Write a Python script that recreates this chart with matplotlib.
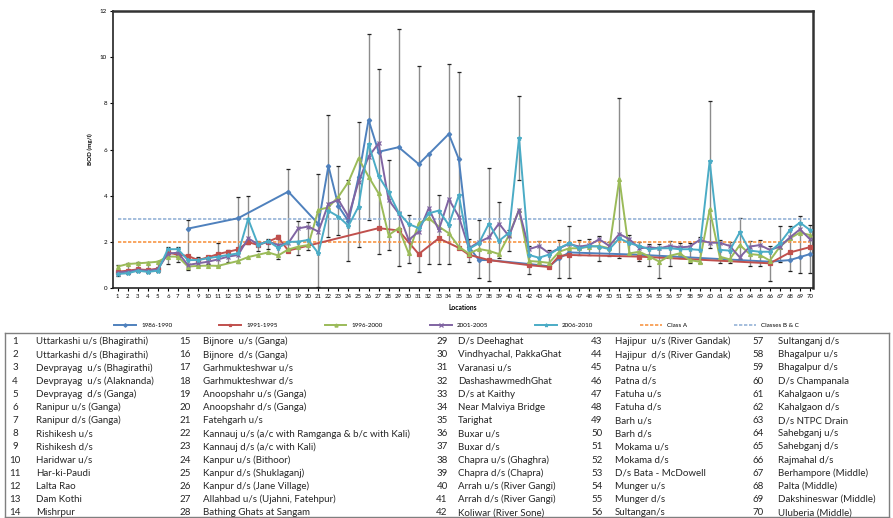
import matplotlib
matplotlib.use("Agg")
import matplotlib.pyplot as plt
import numpy as np

plt.rcParams['font.family'] = ['Lato', 'DejaVu Sans']

nan = np.nan
locations = np.arange(1, 71)

# BOD (mg/l) per location, one list per period (nan = not monitored)
bod_1986_1990 = [nan, nan, nan, nan, nan, nan, nan, 2.58, nan, nan,
                 nan, nan, 3.03, nan, nan, nan, nan, 4.18, nan, nan,
                 2.78, 5.29, 3.55, 2.9, 4.8, 7.28, 5.9, nan, 6.1, nan,
                 5.37, 5.8, nan, 6.67, 5.58, 1.8, 1.22, 1.22, nan, nan,
                 nan, 1.05, nan, 0.95, 1.3, 1.55, nan, nan, nan, nan,
                 nan, nan, 1.45, nan, nan, nan, nan, nan, nan, nan,
                 nan, nan, nan, nan, nan, 1.15, nan, 1.22, 1.35, 1.48]
bod_1991_1995 = [0.72, 0.76, 0.82, 0.79, 0.85, 1.55, 1.45, 1.4, 1.22, 1.34,
                 1.48, 1.58, 1.68, 2.0, 1.87, 2.02, 2.2, 1.63, nan, nan,
                 nan, nan, nan, nan, nan, nan, 2.6, nan, 2.5, nan,
                 1.48, nan, 2.16, nan, 1.75, 1.45, nan, 1.22, nan, nan,
                 nan, 1.0, nan, 0.92, 1.4, 1.44, nan, nan, nan, nan,
                 nan, nan, 1.37, nan, nan, nan, nan, nan, nan, nan,
                 nan, nan, nan, nan, nan, 1.08, nan, 1.55, nan, 1.78]
bod_1996_2000 = [0.94, 1.05, 1.08, 1.11, 1.15, 1.37, 1.37, 0.94, 0.97, 0.98,
                 0.97, nan, 1.18, 1.35, 1.45, 1.55, 1.42, 1.68, 1.8, 1.87,
                 3.39, 3.5, 3.96, 4.6, 5.62, 4.83, 4.1, 2.3, 2.6, 1.51,
                 2.81, 3.03, 2.67, 2.38, 1.8, 1.5, 1.7, 1.62, 1.48, 2.3,
                 3.39, 1.18, 1.15, 1.1, 1.58, 1.73, 1.73, 1.8, 1.83, 1.73,
                 4.73, 1.51, 1.58, 1.37, 1.15, 1.4, 1.51, 1.22, 1.15, 3.41,
                 1.37, 1.25, 1.87, 1.48, 1.44, 1.2, 1.8, 2.16, 2.41, 2.3]
bod_2001_2005 = [0.68, 0.72, 0.79, 0.76, 0.82, 1.5, 1.54, 1.01, 1.08, 1.15,
                 1.25, 1.37, 1.44, 2.16, 1.9, 2.02, 1.87, 1.95, 2.59, 2.67,
                 2.45, 3.65, 3.82, 3.1, 4.6, 5.69, 6.27, 3.82, 3.24, 2.09,
                 2.45, 3.46, 2.52, 3.85, 3.1, 1.73, 2.0, 2.2, 2.8, 2.25,
                 3.39, 1.69, 1.83, 1.51, 1.73, 1.92, 1.8, 1.87, 2.12, 1.83,
                 2.35, 2.12, 1.73, 1.77, 1.73, 1.83, 1.77, 1.8, 2.09, 1.97,
                 1.97, 1.83, 1.34, 1.8, 1.87, 1.66, 1.8, 2.2, 2.55, 2.12]
bod_2006_2010 = [0.62, 0.65, 0.76, 0.71, 0.76, 1.69, 1.69, 1.22, 1.22, 1.3,
                 1.37, 1.44, 1.51, 3.0, 1.87, 2.04, 1.75, 2.0, 2.02, 2.09,
                 1.51, 3.35, 3.1, 2.7, 3.53, 6.24, 4.85, 4.16, 3.27, 2.78,
                 2.6, 3.24, 3.36, 2.74, 4.03, 1.7, 1.95, 2.8, 2.05, 2.4,
                 6.5, 1.44, 1.32, 1.46, 1.73, 1.95, 1.73, 1.83, 1.8, 1.69,
                 2.16, 1.95, 1.83, 1.69, 1.73, 1.73, 1.69, 1.69, 1.66, 5.5,
                 1.66, 1.63, 2.42, 1.63, 1.58, 1.58, 1.95, 2.52, 2.84, 2.52]

# overall spread (error bar ends) per location
err_low = [0.55, 0.6, 0.7, 0.65, 0.7, 1.05, 1.15, 0.8, 0.95, 1.05,
           0.95, 1.15, 1.1, 1.9, 1.6, 1.7, 1.25, 1.6, 1.45, 1.65,
           0.05, 2.2, 2.3, 1.2, 1.8, 2.95, 1.5, 1.65, 0.98, 1.1,
           0.7, 1.05, 1.05, 1.05, 1.7, 1.15, 0.45, 0.3, 1.3, 1.6,
           4.68, 0.6, 1.0, 0.9, 0.43, 0.43, 1.45, 1.45, 1.2, 1.4,
           1.3, 1.45, 1.2, 0.95, 0.43, 0.95, 1.3, 1.1, 1.1, 1.75,
           1.1, 1.1, 1.25, 0.95, 0.95, 0.33, 1.15, 0.75, 0.65, 0.65]
err_high = [1.0, 1.1, 1.12, 1.15, 1.2, 1.8, 1.8, 2.95, 1.35, 1.4,
            1.95, 1.65, 3.95, 3.98, 2.05, 2.15, 2.3, 5.15, 2.9, 2.85,
            4.95, 7.48, 5.3, 4.7, 7.2, 11.0, 9.5, 5.55, 11.2, 3.15,
            9.6, 5.8, 4.05, 9.7, 9.35, 2.15, 2.95, 5.2, 3.75, 2.5,
            8.3, 1.85, 2.05, 1.65, 2.1, 2.7, 2.1, 2.15, 2.25, 2.0,
            8.24, 2.3, 2.0, 1.9, 1.9, 2.05, 1.95, 1.95, 2.2, 8.1,
            2.1, 2.0, 3.03, 2.05, 2.1, 1.85, 2.7, 2.7, 3.13, 2.75]

class_a = 2
classes_bc = 3

location_names = [
    "Uttarkashi u/s (Bhagirathi)", "Uttarkashi d/s (Bhagirathi)", "Devprayag  u/s (Bhagirathi)",
    "Devprayag  u/s (Alaknanda)", "Devprayag  d/s (Ganga)", "Ranipur u/s (Ganga)",
    "Ranipur d/s (Ganga)", "Rishikesh u/s", "Rishikesh d/s", "Haridwar u/s", "Har-ki-Paudi",
    "Lalta Rao", "Dam Kothi", "Mishrpur",
    "Bijnore  u/s (Ganga)", "Bijnore  d/s (Ganga)", "Garhmukteshwar u/s", "Garhmukteshwar d/s",
    "Anoopshahr u/s (Ganga)", "Anoopshahr d/s (Ganga)", "Fatehgarh u/s",
    "Kannauj u/s (a/c with Ramganga & b/c with Kali)", "Kannauj d/s (a/c with Kali)",
    "Kanpur u/s (Bithoor)", "Kanpur d/s (Shuklaganj)", "Kanpur d/s (Jane Village)",
    "Allahbad u/s (Ujahni, Fatehpur)", "Bathing Ghats at Sangam",
    "D/s Deehaghat", "Vindhyachal, PakkaGhat", "Varanasi u/s", "DashashawmedhGhat",
    "D/s at Kaithy", "Near Malviya Bridge", "Tarighat", "Buxar u/s", "Buxar d/s",
    "Chapra u/s (Ghaghra)", "Chapra d/s (Chapra)", "Arrah u/s (River Gangi)",
    "Arrah d/s (River Gangi)", "Koliwar (River Sone)",
    "Hajipur  u/s (River Gandak)", "Hajipur  d/s (River Gandak)", "Patna u/s", "Patna d/s",
    "Fatuha u/s", "Fatuha d/s", "Barh u/s", "Barh d/s", "Mokama u/s", "Mokama d/s",
    "D/s Bata - McDowell", "Munger u/s", "Munger d/s", "Sultangan/s",
    "Sultanganj d/s", "Bhagalpur u/s", "Bhagalpur d/s", "D/s Champanala", "Kahalgaon u/s",
    "Kahalgaon d/s", "D/s NTPC Drain", "Sahebganj u/s", "Sahebganj d/s", "Rajmahal d/s",
    "Berhampore (Middle)", "Palta (Middle)", "Dakshineswar (Middle)", "Uluberia (Middle)",
]

W, H = 893, 518
fig = plt.figure(figsize=(W / 100, H / 100), dpi=100)
ax = fig.add_axes([112.7 / W, 1 - 288.3 / H, (813 - 112.7) / W, (288.3 - 10.7) / H])

# error bars: grey stem with black caps
ax.vlines(locations, err_low, err_high, color='#8c8c8c', lw=1.0, zorder=1)
ax.plot(locations, err_low, ls='none', marker='_', ms=3.5, mew=0.9, color='#222222', zorder=1)
ax.plot(locations, err_high, ls='none', marker='_', ms=3.5, mew=0.9, color='#222222', zorder=1)

series = [
    ("1986-1990", bod_1986_1990, '#4F81BD', 'D', 2.2),
    ("1991-1995", bod_1991_1995, '#C0504D', 's', 2.6),
    ("1996-2000", bod_1996_2000, '#9BBB59', '^', 2.8),
    ("2001-2005", bod_2001_2005, '#8064A2', 'x', 2.8),
    ("2006-2010", bod_2006_2010, '#4BACC6', '*', 3.2),
]
for label, vals, color, marker, ms in series:
    y = np.array(vals, dtype=float)
    ok = ~np.isnan(y)
    ax.plot(locations[ok], y[ok], color=color, lw=1.4, marker=marker, ms=ms,
            mew=0.9, label=label, zorder=3)

ax.plot(locations, np.full(70, class_a), color='#F79646', lw=1.2, ls=(0, (2, 1)),
        label="Class A", zorder=2)
ax.plot(locations, np.full(70, classes_bc), color='#95B3D7', lw=1.2, ls=(0, (2, 1)),
        label="Classes B & C", zorder=2)

ax.set_xlim(0.5, 70.3)
ax.set_ylim(0, 12)
ax.set_xticks(locations)
ax.set_xticklabels([str(i) for i in locations], fontsize=4.3)
ax.set_yticks(range(0, 13, 2))
ax.tick_params(axis='y', labelsize=4.5, length=2, width=0.8, pad=2)
ax.tick_params(axis='x', length=2, width=0.8, pad=2)
for side in ['top', 'right']:
    ax.spines[side].set_linewidth(1.8)
    ax.spines[side].set_color('#333333')
for side in ['left', 'bottom']:
    ax.spines[side].set_linewidth(1.2)
    ax.spines[side].set_color('#222222')
ax.set_xlabel("Locations", fontsize=4.8, fontweight='bold', labelpad=4)
ax.set_ylabel("BOD (mg/l)", fontsize=4.5, fontweight='bold', labelpad=5)

handles, labels = ax.get_legend_handles_labels()
fig.legend(handles, labels, loc='center', bbox_to_anchor=(0.5 + 10 / W, 1 - 325 / H),
           ncol=7, frameon=False, fontsize=4.5, handlelength=3.5, columnspacing=7.5,
           markerscale=0.8)

# table of location names
tab = fig.add_axes([5 / W, 1 - 517 / H, (889 - 5) / W, (517 - 333) / H])
tab.set_xlim(5, 889)
tab.set_ylim(517, 333)
tab.set_xticks([])
tab.set_yticks([])
for s in tab.spines.values():
    s.set_color('#7f7f7f')
    s.set_linewidth(1.0)

num_x = [15, 185, 442, 597, 758]
name_x = [36, 203, 458, 615, 778]
for i, name in enumerate(location_names):
    col, row = divmod(i, 14)
    yy = 341.7 + row * 13.15
    tab.text(num_x[col], yy, str(i + 1), ha='center', va='center', fontsize=7, color='#262626')
    tab.text(name_x[col], yy, name, ha='left', va='center', fontsize=7, color='#262626')

fig.savefig("out.png", dpi=100)
